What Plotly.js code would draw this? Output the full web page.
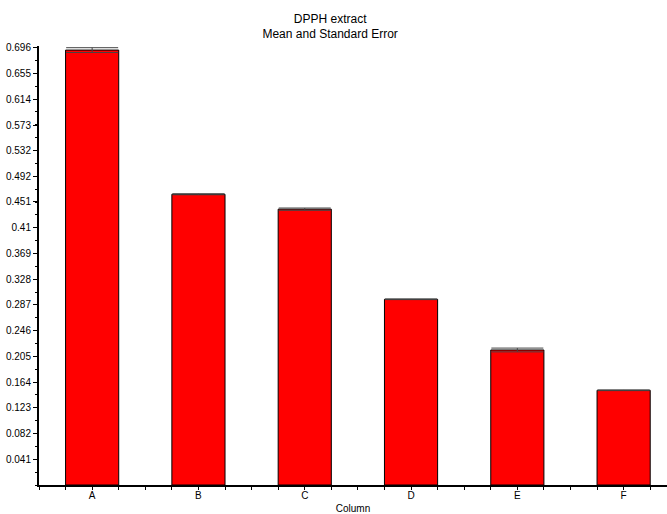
<!DOCTYPE html>
<html>
<head>
<meta charset="utf-8">
<script src="https://cdn.plot.ly/plotly-3.0.1.min.js"></script>
<style>
html,body{margin:0;padding:0;background:#fff;}
#chart{width:667px;height:514px;}
</style>
</head>
<body>
<div id="chart"></div>
<script>
const categories = ["A", "B", "C", "D", "E", "F"];
const meanValues = [0.6925, 0.4629, 0.4392, 0.2957, 0.2150, 0.1508];
const stdErrors  = [0.0038, 0.0008, 0.0018, 0.0005, 0.0030, 0.0005];
const yTickLabels = ["0.041","0.082","0.123","0.164","0.205","0.246","0.287","0.328","0.369","0.41","0.451","0.492","0.532","0.573","0.614","0.655","0.696"];
const titleLines = ["DPPH extract", "Mean and Standard Error"];
const xTitle = "Column";

const FONT = "'Liberation Sans Narrow', 'Arial Narrow', 'Liberation Sans', Arial, sans-serif";

const bars = {
  type: "bar",
  x: categories,
  y: meanValues,
  width: 0.5,
  marker: {color: "#ff0000", line: {color: "#000000", width: 1}},
  error_y: {type: "data", array: stdErrors, visible: true, color: "#444444", thickness: 1, width: 26},
  hoverinfo: "x+y",
  showlegend: false
};

const tickHelper = {
  type: "scatter",
  x: [-0.5, 5.408],
  y: [0, 0],
  xaxis: "x2",
  yaxis: "y",
  mode: "none",
  hoverinfo: "skip",
  showlegend: false
};

const layout = {
  width: 667,
  height: 514,
  margin: {l: 39, r: 0, t: 46, b: 29, pad: 0},
  paper_bgcolor: "#ffffff",
  plot_bgcolor: "#ffffff",
  font: {family: FONT, size: 10, color: "#000000"},
  title: {
    text: titleLines.join("<br>"),
    x: 0.495, xanchor: "center",
    y: 0.956, yanchor: "middle",
    font: {family: FONT, size: 12, color: "#000000"}
  },
  bargap: 0.5,
  xaxis: {
    type: "category",
    range: [-0.5, 5.408],
    showgrid: false,
    zeroline: false,
    showline: true,
    linecolor: "#000000",
    linewidth: 2,
    ticks: "",
    tickfont: {family: FONT, size: 10, color: "#000000"},
    title: {text: xTitle, font: {family: FONT, size: 10, color: "#000000"}, standoff: 10},
    fixedrange: true
  },
  xaxis2: {
    type: "linear",
    overlaying: "x",
    anchor: "y",
    side: "bottom",
    range: [-0.5, 5.408],
    tick0: 0,
    dtick: 0.25,
    ticks: "outside",
    ticklen: 4,
    tickwidth: 1,
    tickcolor: "#000000",
    showticklabels: false,
    showgrid: false,
    zeroline: false,
    showline: false
  },
  yaxis: {
    range: [0, 0.699],
    showgrid: false,
    zeroline: false,
    showline: true,
    linecolor: "#000000",
    linewidth: 2,
    tickmode: "array",
    tickvals: yTickLabels.map(Number),
    ticktext: yTickLabels,
    ticks: "outside",
    ticklen: 4,
    tickwidth: 1,
    tickcolor: "#000000",
    tickfont: {family: FONT, size: 10, color: "#000000"},
    minor: {tick0: 0, dtick: 0.02048, ticks: "outside", ticklen: 2, tickwidth: 1, tickcolor: "#000000"},
    fixedrange: true
  }
};

Plotly.newPlot("chart", [bars, tickHelper], layout, {displayModeBar: false, staticPlot: true});
</script>
</body>
</html>
